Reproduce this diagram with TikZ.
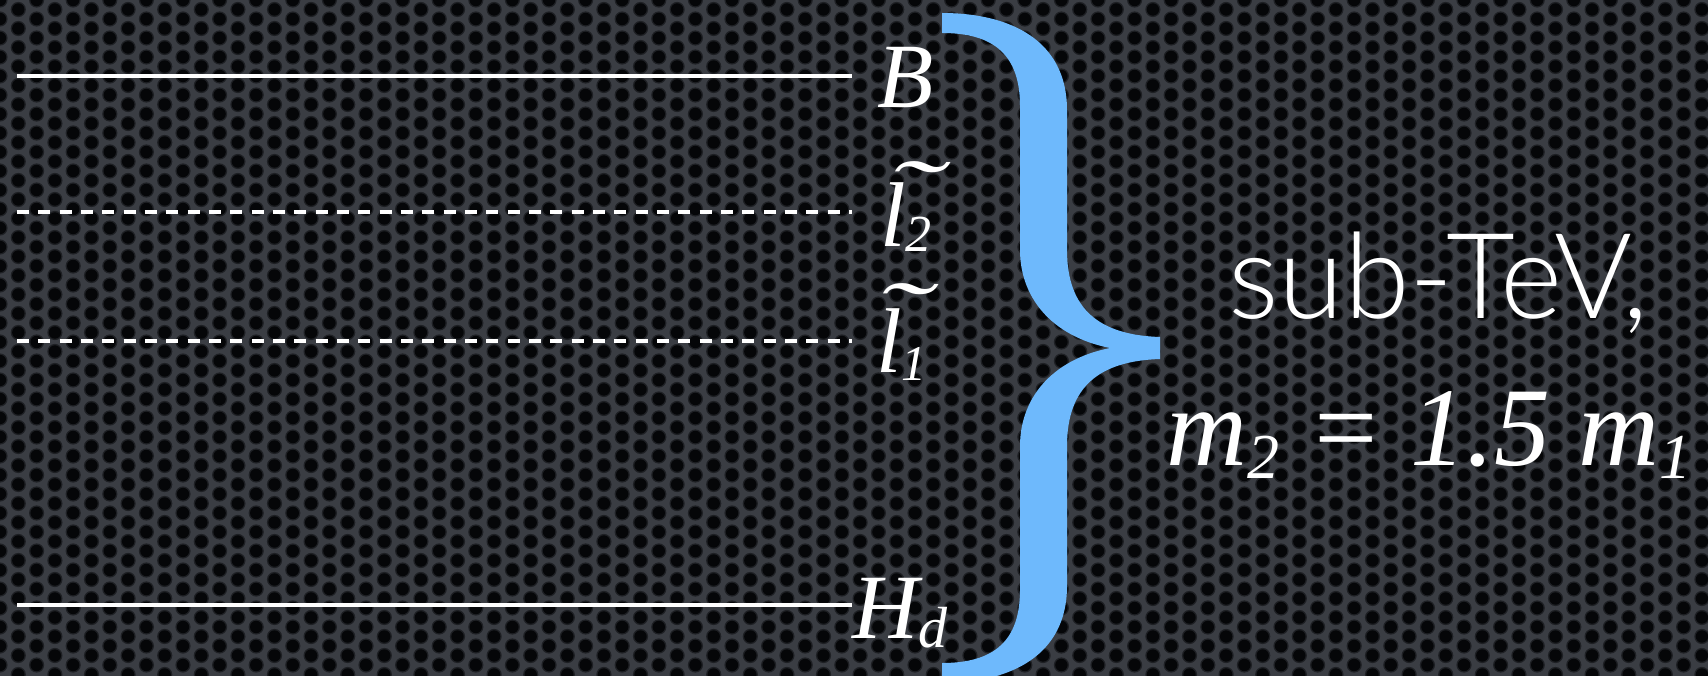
\documentclass[tikz,border=0pt]{standalone}
\usepackage{fontspec}
\setmainfont{Liberation Serif}
\IfFontExistsTF{Lato Light}{\newfontfamily\thinsans{Lato Light}}{\newfontfamily\thinsans{Lato}}
\definecolor{bracecol}{RGB}{110,185,252}
\definecolor{plate}{RGB}{58,61,67}
\definecolor{rim}{RGB}{30,32,36}
\definecolor{hole}{RGB}{5,6,8}
\newcommand\subsc[3]{\raisebox{-#2pt}{\fontsize{#3}{#3}\selectfont #1}}
\newcommand\tildemark[2]{\makebox[0pt][l]{\hspace{#1pt}\raisebox{#2pt}[0pt][0pt]{\scalebox{1.8}[0.95]{\char"02DC}}}}
\begin{document}
\begin{tikzpicture}[x=1pt,y=-1pt,
  level/.style={white,line width=4.5pt},
  dlevel/.style={white,line width=4.5pt,dash pattern=on 12pt off 9.33pt},
  lab/.style={white,inner sep=0pt,anchor=base west,font=\itshape\fontsize{92}{100}\selectfont},
  bigtxt/.style={white,inner sep=0pt,anchor=base west}]
\useasboundingbox (0,0) rectangle (1708,676);
\fill[plate] (0,0) rectangle (1708,676);
\begin{scope}
\clip (0,0) rectangle (1708,676);
\foreach \c in {0,...,94}{
  \pgfmathsetmacro{\off}{mod(\c,2)*9.5}
  \foreach \r in {0,...,36}{
    \fill[rim] ({\c*18.3},{\r*19+\off}) circle (7.6);
    \fill[hole] ({\c*18.3},{\r*19+\off}) circle (6.2);
  }
}
\end{scope}
% level lines
\coordinate (b0) at (17,76);   \coordinate (b1) at (852,76);
\coordinate (s20) at (17,212); \coordinate (s21) at (852,212);
\coordinate (s10) at (17,341); \coordinate (s11) at (852,341);
\coordinate (h0) at (17,605);  \coordinate (h1) at (852,605);
\draw[level] (b0) -- (b1);
\draw[dlevel] (s20) -- (s21);
\draw[dlevel] (s10) -- (s11);
\draw[level] (h0) -- (h1);
% labels
\node[lab] (lB) at (877,108) {B};
\node[lab] (lL2) at (880,247) {\tildemark{5}{26}l\subsc{2}{5}{52}};
\node[lab] (lL1) at (876,372) {\tildemark{-3}{30}l\subsc{1}{8}{50}};
\node[lab] (lHd) at (852,638) {H\subsc{d}{9}{58}};
% brace
\fill[bracecol] (942,13) .. controls (1010,13) and (1067,40) .. (1067,110)
  -- (1067,250) .. controls (1067,310) and (1100,335) .. (1160,337)
  -- (1160,359) .. controls (1100,361) and (1067,386) .. (1067,446)
  -- (1067,586) .. controls (1067,656) and (1010,683) .. (942,683)
  -- (942,663) .. controls (995,663) and (1020,640) .. (1020,590)
  -- (1020,446) .. controls (1020,400) and (1050,360) .. (1110,348)
  .. controls (1050,336) and (1020,296) .. (1020,250)
  -- (1020,106) .. controls (1020,56) and (995,33) .. (942,33) -- cycle;
% right text
\node[bigtxt,font=\thinsans\fontsize{119}{120}\selectfont] (sub) at (1228,319) {sub-TeV,};
\node[bigtxt,font=\itshape\fontsize{112}{120}\selectfont] (eq) at (1166,465)
  {m\subsc{2}{13}{64} = 1.5 m\subsc{1}{13}{64}};
\end{tikzpicture}
\end{document}
